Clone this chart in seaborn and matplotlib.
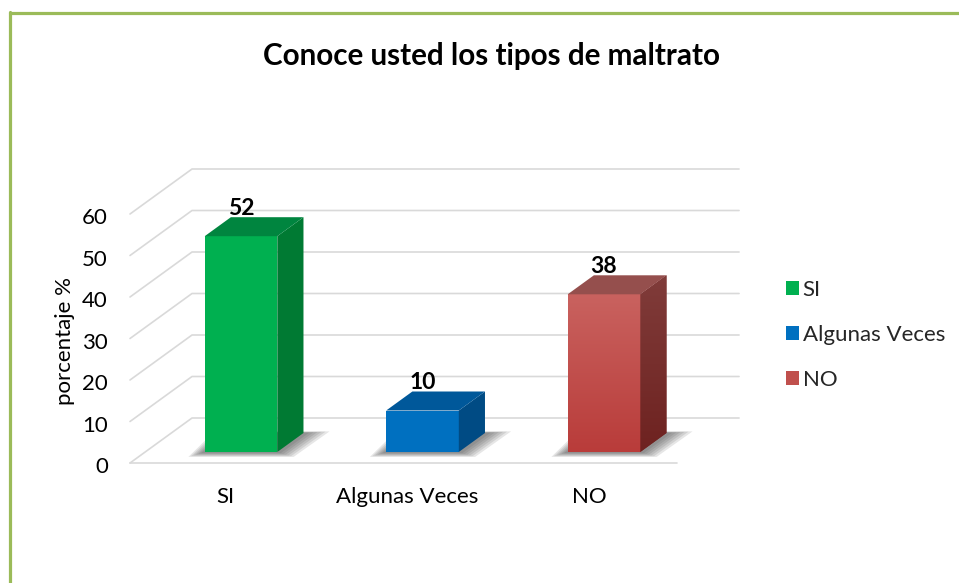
import numpy as np
import matplotlib
matplotlib.use("Agg")
import matplotlib.pyplot as plt
import seaborn as sns
import pandas as pd
from matplotlib.patches import Polygon
from matplotlib.lines import Line2D
from matplotlib.colors import LinearSegmentedColormap

# ---------------- data ----------------
categories = ["SI", "Algunas Veces", "NO"]
values = [52, 10, 38]
tick_values = [0, 10, 20, 30, 40, 50, 60]
title = "Conoce usted los tipos de maltrato"
ylabel = "porcentaje %"

front_colors = ["#00B050", "#0070C0", "#C0504D"]
side_colors = ["#007A33", "#004B84", "#7E2C2A"]
top_colors = ["#00853F", "#00589A", "#954F4D"]
red_front_grad = ["#C9625F", "#B93C3A"]
red_side_grad = ["#803C3A", "#6E2220"]

# ---------------- style ----------------
sns.set_theme(style="white")
plt.rcParams["font.family"] = ["Lato", "DejaVu Sans"]

W, H = 959, 583
fig = plt.figure(figsize=(W / 100, H / 100), dpi=100)

# axes placement (pixels) and projection geometry
ax_l, ax_r, ax_t, ax_b = 100, 760, 130, 525
px_x, px_y = 181.5, 4.15          # px per category / per value unit
cx0, y0 = 241, 452                # pixel of category 0 / value 0 at bar plane
ax = fig.add_axes([ax_l / W, 1 - ax_b / H, (ax_r - ax_l) / W, (ax_b - ax_t) / H])

DX, DY = 62 / px_x, 45 / px_y     # full depth of the chart box
tb = 11 / 45                      # depth of the bar plane
td = 19 / 45                      # depth of a bar
xL, xR = -0.528, 2.486            # left/right edges of the floor (bar-plane units)


def proj(x, y, t):
    return (x + (t - tb) * DX, y + (t - tb) * DY)


def set_limits():
    ax.set_xlim((ax_l - cx0) / px_x, (ax_r - cx0) / px_x)
    ax.set_ylim((y0 - ax_b) / px_y, (y0 - ax_t) / px_y)
    ax.axis("off")


grid_c = "#D9D9D9"
for v in tick_values:
    a = proj(xL, v, 0)
    b = proj(xL, v, 1)
    c = proj(xR, v, 1)
    ax.add_line(Line2D([a[0], b[0], c[0]], [a[1], b[1], c[1]], color=grid_c, lw=1.2, zorder=1))
f0, f1 = proj(xL, 0, 0), proj(xR, 0, 0)
ax.add_line(Line2D([f0[0], f1[0]], [f0[1], f1[1]], color=grid_c, lw=1.2, zorder=1))

# ---------------- bars (front faces) ----------------
df = pd.DataFrame({"cat": categories, "val": values})
sns.barplot(data=df, x="cat", y="val", hue="cat", palette=front_colors,
            width=0.4, dodge=False, ax=ax, legend=True, zorder=5,
            saturation=1, linewidth=0)
set_limits()

dx, dy = td * DX, td * DY
patches = sorted([p for p in ax.patches if p.get_height() > 0], key=lambda p: p.get_x())
for i, p in enumerate(patches):
    x, w, h = p.get_x(), p.get_width(), p.get_height()
    # soft shadow on the floor
    for e in np.linspace(0.09, 0.02, 6):
        ey = e * 0.5 * px_x / px_y
        sh = Polygon([(x - e, -ey * 0.6), (x + w + e, -ey * 0.6),
                      (x + w + dx + e * 1.6, dy + ey * 0.2), (x + dx - e, dy + ey * 0.2)],
                     closed=True, facecolor="#404040", edgecolor="none",
                     alpha=0.13, zorder=3)
        ax.add_patch(sh)
    side = Polygon([(x + w, 0), (x + w + dx, dy), (x + w + dx, h + dy), (x + w, h)],
                   closed=True, facecolor=side_colors[i], edgecolor="none", zorder=5)
    top = Polygon([(x, h), (x + w, h), (x + w + dx, h + dy), (x + dx, h + dy)],
                  closed=True, facecolor=top_colors[i], edgecolor="none", zorder=6)
    ax.add_patch(side)
    ax.add_patch(top)
    if categories[i] == "NO":
        grad = np.linspace(0, 1, 256).reshape(-1, 1)
        cm1 = LinearSegmentedColormap.from_list("rf", red_front_grad[::-1])
        im = ax.imshow(grad, cmap=cm1, extent=(x, x + w, 0, h), origin="lower",
                       aspect="auto", zorder=5.5)
        im.set_clip_path(p)
        cm2 = LinearSegmentedColormap.from_list("rs", red_side_grad[::-1])
        im2 = ax.imshow(grad, cmap=cm2, extent=(x + w, x + w + dx, 0, h + dy),
                        origin="lower", aspect="auto", zorder=5.5)
        im2.set_clip_path(side)
    # value label
    ax.text(x + w / 2, h + dy + 0.5, f"{values[i]}", ha="center", va="baseline",
            fontsize=16.5, fontweight="bold", color="black", zorder=10)

set_limits()

# tick labels on the left wall front edge
for v in tick_values:
    ax.text(xL - 0.205, v - tb * DY - 1.0, f"{v}", ha="right", va="center",
            fontsize=16, color="black")
# category labels
for i, c in enumerate(categories):
    ax.text(i - tb * DX, -tb * DY - 34 / px_y, c, ha="center", va="center",
            fontsize=16, color="black")

# legend
handles, labels = ax.get_legend_handles_labels()
if ax.get_legend() is not None:
    ax.get_legend().remove()
fig.legend(handles, labels, loc="upper left",
           bbox_to_anchor=(786 / W, 1 - 280 / H), frameon=False,
           fontsize=16, handlelength=0.6, handleheight=0.6,
           handletextpad=0.15, labelspacing=1.12, borderpad=0, borderaxespad=0)

# title and axis label
fig.text(491 / W, 1 - 56 / H, title, ha="center", va="center",
         fontsize=21.3, fontweight="bold", color="black")
fig.text(65 / W, 1 - 341 / H, ylabel, ha="center", va="center",
         rotation=90, fontsize=16, color="black")

# green frame (left and top)
fig.add_artist(Line2D([10 / W, 10 / W], [0, 1 - 12 / H], transform=fig.transFigure,
                      color="#9BBB59", lw=2.3))
fig.add_artist(Line2D([10 / W, 1], [1 - 12.5 / H, 1 - 12.5 / H], transform=fig.transFigure,
                      color="#9BBB59", lw=2.3))

fig.savefig("out.png", dpi=100)
